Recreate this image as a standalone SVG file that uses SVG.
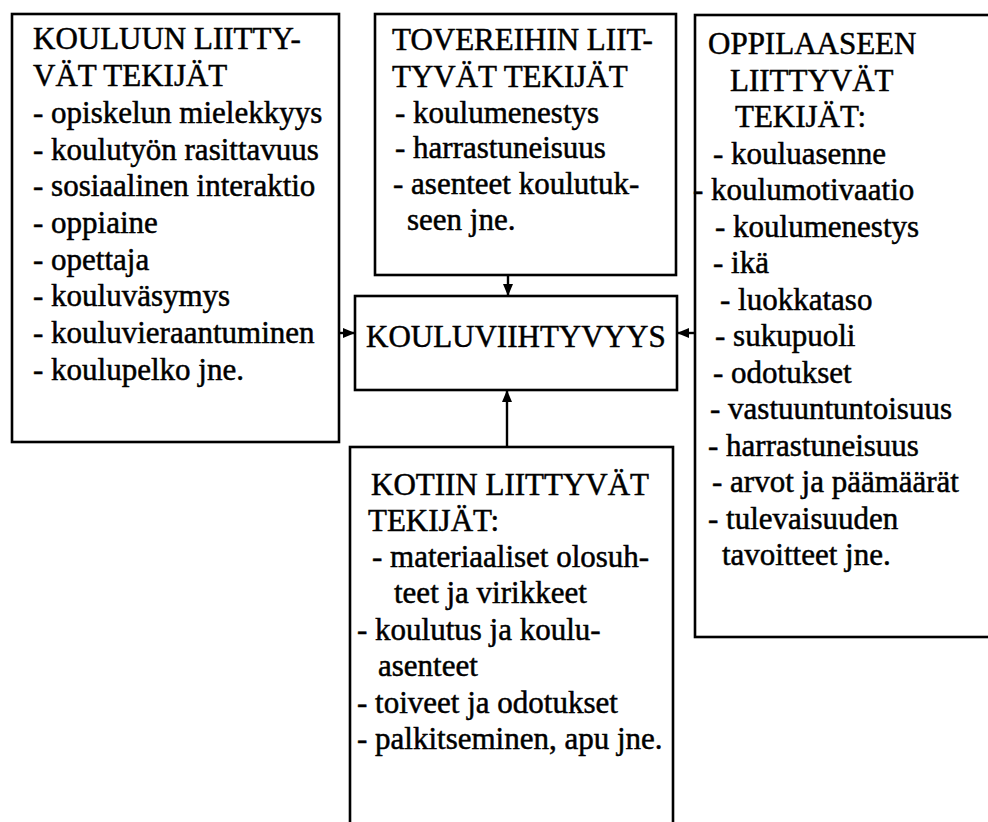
<svg xmlns="http://www.w3.org/2000/svg" width="988" height="822" viewBox="0 0 988 822">
<style>
.box{fill:#fff;stroke:#000;stroke-width:2.6}
.t{font-family:"Liberation Serif","Times New Roman",serif;font-size:31px;fill:#000;stroke:#000;stroke-width:0.5}
.c{stroke:#000;stroke-width:2.4;fill:none}
</style>
<defs>
<marker id="ah" viewBox="0 0 12 10" refX="12" refY="5" markerWidth="12" markerHeight="10" markerUnits="userSpaceOnUse" orient="auto">
<path d="M0,0 L12,5 L0,10 Z" fill="#000"/>
</marker>
</defs>
<rect width="988" height="822" fill="#fff"/>
<g id="koulu">
<rect class="box" x="12" y="14" width="327" height="428"/>
<text class="t" x="33" y="49">KOULUUN LIITTY-</text>
<text class="t" x="33" y="86">VÄT TEKIJÄT</text>
<text class="t" x="33" y="123">- opiskelun mielekkyys</text>
<text class="t" x="33" y="160">- koulutyön rasittavuus</text>
<text class="t" x="33" y="196">- sosiaalinen interaktio</text>
<text class="t" x="33" y="233">- oppiaine</text>
<text class="t" x="33" y="270">- opettaja</text>
<text class="t" x="33" y="306">- kouluväsymys</text>
<text class="t" x="33" y="343">- kouluvieraantuminen</text>
<text class="t" x="33" y="380">- koulupelko jne.</text>
</g>
<g id="tovereihin">
<rect class="box" x="375" y="14" width="301" height="261"/>
<text class="t" x="392" y="50">TOVEREIHIN LIIT-</text>
<text class="t" x="392" y="87">TYVÄT TEKIJÄT</text>
<text class="t" x="395" y="123">- koulumenestys</text>
<text class="t" x="395" y="158">- harrastuneisuus</text>
<text class="t" x="393" y="194">- asenteet koulutuk-</text>
<text class="t" x="407" y="230">seen jne.</text>
</g>
<g id="oppilaaseen">
<rect class="box" x="695" y="15" width="310" height="622"/>
<text class="t" x="708" y="54">OPPILAASEEN</text>
<text class="t" x="730" y="91">LIITTYVÄT</text>
<text class="t" x="735" y="127">TEKIJÄT:</text>
<text class="t" x="713" y="164">- kouluasenne</text>
<text class="t" x="693" y="200">- koulumotivaatio</text>
<text class="t" x="715" y="237">- koulumenestys</text>
<text class="t" x="713" y="273">- ikä</text>
<text class="t" x="720" y="310">- luokkataso</text>
<text class="t" x="715" y="346">- sukupuoli</text>
<text class="t" x="713" y="383">- odotukset</text>
<text class="t" x="710" y="419">- vastuuntuntoisuus</text>
<text class="t" x="708" y="456">- harrastuneisuus</text>
<text class="t" x="712" y="492">- arvot ja päämäärät</text>
<text class="t" x="708" y="529">- tulevaisuuden</text>
<text class="t" x="722" y="565">tavoitteet jne.</text>
</g>
<g id="kouluviihtyvyys">
<rect class="box" x="355" y="296" width="322" height="94"/>
<text class="t" x="366" y="347">KOULUVIIHTYVYYS</text>
</g>
<g id="kotiin">
<rect class="box" x="350" y="447" width="323" height="400"/>
<text class="t" x="371" y="495">KOTIIN LIITTYVÄT</text>
<text class="t" x="368" y="531">TEKIJÄT:</text>
<text class="t" x="372" y="567">- materiaaliset olosuh-</text>
<text class="t" x="394" y="603">teet ja virikkeet</text>
<text class="t" x="357" y="640">- koulutus ja koulu-</text>
<text class="t" x="378" y="676">asenteet</text>
<text class="t" x="357" y="713">- toiveet ja odotukset</text>
<text class="t" x="357" y="749">- palkitseminen, apu jne.</text>
</g>
<g id="connectors">
<line class="c" x1="339" y1="333" x2="355" y2="333" marker-end="url(#ah)"/>
<line class="c" x1="695" y1="333" x2="677" y2="333" marker-end="url(#ah)"/>
<line class="c" x1="508" y1="275" x2="508" y2="296" marker-end="url(#ah)"/>
<line class="c" x1="507" y1="447" x2="507" y2="390" marker-end="url(#ah)"/>
</g>
</svg>
